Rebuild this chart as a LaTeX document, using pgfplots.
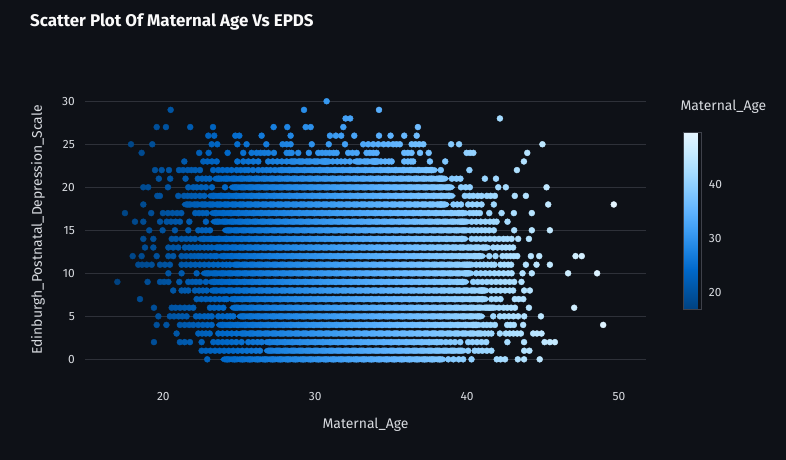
\documentclass[border=0pt]{standalone}
\usepackage{fontspec}
\setmainfont{Fira Sans}
\usepackage{pgfplots}
\pgfplotsset{compat=1.18}
\usetikzlibrary{calc}
\pgfdeclarelayer{background}
\pgfsetlayers{background,main}
\definecolor{bg}{HTML}{0E1117}
\definecolor{gridc}{HTML}{2E3139}
\definecolor{titlec}{HTML}{FAFAFA}
\definecolor{tickc}{HTML}{D8DBE0}
\definecolor{labelc}{HTML}{D8DBE0}
\definecolor{cbborder}{HTML}{3E414A}
\begin{document}
\begin{tikzpicture}[x=1bp,y=1bp]
\begin{axis}[
  width=561bp, height=296bp, scale only axis,
  xmin=14.84, xmax=51.78, ymin=-2.17, ymax=32.24,
  axis line style={draw=none}, major tick length=0pt,
  xtick={20,30,40,50}, ytick={0,5,...,30},
  ymajorgrids, grid style={draw=gridc, line width=1bp},
  tick label style={font=\fontsize{12}{14}\selectfont, text=tickc},
  /pgf/number format/assume math mode=true,
  xticklabel style={anchor=center, inner sep=0pt, yshift=-19bp},
  yticklabel style={anchor=east, inner sep=0pt, xshift=-10bp},
  xlabel={Maternal\_Age}, ylabel={Edinburgh\_Postnatal\_Depression\_Scale},
  every axis x label/.style={at={(axis description cs:0.5,-0.1588)}, anchor=center, font=\fontsize{14}{16}\selectfont, text=labelc},
  every axis y label/.style={at={(axis description cs:-0.0838,0.5)}, rotate=90, anchor=center, font=\fontsize{14}{16}\selectfont, text=labelc},
  colormap={stl}{rgb255=(0,66,128) rgb255=(0,84,163) rgb255=(0,104,201) rgb255=(28,131,225) rgb255=(61,157,243) rgb255=(96,180,255) rgb255=(131,201,255) rgb255=(166,220,255) rgb255=(199,235,255) rgb255=(228,245,255)},
  point meta min=16.9, point meta max=49.7,
  colorbar,
  colorbar shift/.style={},
  colorbar style={
    at={(parent axis.north east)}, anchor=north west,
    xshift=37.3bp, yshift=-50.7bp,
    width=18.4bp, height=176.6bp, scale only axis,
    ytick={20,30,40}, major tick length=0pt,
    axis line style={draw=cbborder, line width=0.6bp},
    yticklabel pos=right,
    yticklabel style={font=\fontsize{12}{14}\selectfont, text=tickc, anchor=west, inner sep=0pt, xshift=7bp},
    /pgf/number format/assume math mode=true,
    title={Maternal\_Age},
    title style={at={(axis description cs:2.18,1.1115)}, anchor=center, font=\fontsize{14}{16}\selectfont, text=labelc, inner sep=0pt},
  },
]
\coordinate (pSW) at (rel axis cs:0,0);
% dense cores of each EPDS row
\addplot[scatter, only marks, mark=*, mark size=3pt, point meta=x, mark options={xscale=2.2},
  scatter/use mapped color={draw=mapped color, fill=mapped color}] coordinates {
(24.2,0) (24.7,0) (25.2,0) (25.7,0) (26.2,0) (26.7,0) (27.2,0) (27.7,0) (28.2,0) (28.7,0) (29.2,0) (29.7,0) (30.2,0) (30.7,0) (31.2,0) (31.7,0) (32.2,0) (32.7,0) (33.2,0) (33.7,0) (34.2,0) (34.7,0) (35.2,0) (35.7,0) (36.2,0) (36.7,0) (37.2,0) (37.7,0) (38.2,0)
(27.05,1) (27.55,1) (28.05,1) (28.55,1) (29.05,1) (29.55,1) (30.05,1) (30.55,1) (31.05,1) (31.55,1) (32.05,1) (32.55,1) (33.05,1) (33.55,1) (34.05,1) (34.55,1) (35.05,1) (35.55,1) (36.05,1) (36.55,1) (37.05,1) (37.55,1) (38.05,1) (38.55,1) (39.05,1) (39.55,1)
(27,2) (27.5,2) (28,2) (28.5,2) (29,2) (29.5,2) (30,2) (30.5,2) (31,2) (31.5,2) (32,2) (32.5,2) (33,2) (33.5,2) (34,2) (34.5,2) (35,2) (35.5,2) (36,2) (36.5,2) (37,2) (37.5,2) (38,2)
(25.3,3) (25.8,3) (26.3,3) (26.8,3) (27.3,3) (27.8,3) (28.3,3) (28.8,3) (29.3,3) (29.8,3) (30.3,3) (30.8,3) (31.3,3) (31.8,3) (32.3,3) (32.8,3) (33.3,3) (33.8,3) (34.3,3) (34.8,3) (35.3,3) (35.8,3) (36.3,3) (36.8,3) (37.3,3) (37.8,3) (38.3,3) (38.8,3) (39.3,3) (39.8,3) (40.3,3) (40.8,3)
(23.9,4) (24.4,4) (24.9,4) (25.4,4) (25.9,4) (26.4,4) (26.9,4) (27.4,4) (27.9,4) (28.4,4) (28.9,4) (29.4,4) (29.9,4) (30.4,4) (30.9,4) (31.4,4) (31.9,4) (32.4,4) (32.9,4) (33.4,4) (33.9,4) (34.4,4) (34.9,4) (35.4,4) (35.9,4) (36.4,4) (36.9,4) (37.4,4) (37.9,4) (38.4,4) (38.9,4) (39.4,4) (39.9,4) (40.4,4) (40.6,4)
(25.25,5) (25.75,5) (26.25,5) (26.75,5) (27.25,5) (27.75,5) (28.25,5) (28.75,5) (29.25,5) (29.75,5) (30.25,5) (30.75,5) (31.25,5) (31.75,5) (32.25,5) (32.75,5) (33.25,5) (33.75,5) (34.25,5) (34.75,5) (35.25,5) (35.75,5) (36.25,5) (36.75,5) (37.25,5) (37.75,5) (38.25,5) (38.75,5) (39.25,5) (39.75,5) (40.25,5) (40.75,5)
(24.8,6) (25.3,6) (25.8,6) (26.3,6) (26.8,6) (27.3,6) (27.8,6) (28.3,6) (28.8,6) (29.3,6) (29.8,6) (30.3,6) (30.8,6) (31.3,6) (31.8,6) (32.3,6) (32.8,6) (33.3,6) (33.8,6) (34.3,6) (34.8,6) (35.3,6) (35.8,6) (36.3,6) (36.8,6) (37.3,6) (37.8,6) (38.3,6) (38.8,6) (39.3,6) (39.8,6) (40.3,6) (40.8,6) (41.3,6) (41.65,6)
(24.7,7) (25.2,7) (25.7,7) (26.2,7) (26.7,7) (27.2,7) (27.7,7) (28.2,7) (28.7,7) (29.2,7) (29.7,7) (30.2,7) (30.7,7) (31.2,7) (31.7,7) (32.2,7) (32.7,7) (33.2,7) (33.7,7) (34.2,7) (34.7,7) (35.2,7) (35.7,7) (36.2,7) (36.7,7) (37.2,7) (37.7,7) (38.2,7) (38.7,7) (39.2,7) (39.7,7) (40.2,7) (40.7,7) (41.0,7)
(23.4,8) (23.9,8) (24.4,8) (24.9,8) (25.4,8) (25.9,8) (26.4,8) (26.9,8) (27.4,8) (27.9,8) (28.4,8) (28.9,8) (29.4,8) (29.9,8) (30.4,8) (30.9,8) (31.4,8) (31.9,8) (32.4,8) (32.9,8) (33.4,8) (33.9,8) (34.4,8) (34.9,8) (35.4,8) (35.9,8) (36.4,8) (36.9,8) (37.4,8) (37.9,8) (38.4,8) (38.9,8) (39.4,8) (39.9,8) (40.4,8) (40.9,8) (41.05,8)
(23.35,9) (23.85,9) (24.35,9) (24.85,9) (25.35,9) (25.85,9) (26.35,9) (26.85,9) (27.35,9) (27.85,9) (28.35,9) (28.85,9) (29.35,9) (29.85,9) (30.35,9) (30.85,9) (31.35,9) (31.85,9) (32.35,9) (32.85,9) (33.35,9) (33.85,9) (34.35,9) (34.85,9) (35.35,9) (35.85,9) (36.35,9) (36.85,9) (37.35,9) (37.85,9) (38.35,9) (38.85,9) (39.35,9) (39.7,9)
(22.9,10) (23.4,10) (23.9,10) (24.4,10) (24.9,10) (25.4,10) (25.9,10) (26.4,10) (26.9,10) (27.4,10) (27.9,10) (28.4,10) (28.9,10) (29.4,10) (29.9,10) (30.4,10) (30.9,10) (31.4,10) (31.9,10) (32.4,10) (32.9,10) (33.4,10) (33.9,10) (34.4,10) (34.9,10) (35.4,10) (35.9,10) (36.4,10) (36.9,10) (37.4,10) (37.9,10) (38.4,10) (38.9,10) (39.4,10) (39.9,10) (40.05,10)
(24.85,11) (25.35,11) (25.85,11) (26.35,11) (26.85,11) (27.35,11) (27.85,11) (28.35,11) (28.85,11) (29.35,11) (29.85,11) (30.35,11) (30.85,11) (31.35,11) (31.85,11) (32.35,11) (32.85,11) (33.35,11) (33.85,11) (34.35,11) (34.85,11) (35.35,11) (35.85,11) (36.35,11) (36.85,11) (37.35,11) (37.85,11) (38.35,11) (38.85,11) (39.35,11) (39.85,11) (40.15,11)
(24.0,12) (24.5,12) (25.0,12) (25.5,12) (26.0,12) (26.5,12) (27.0,12) (27.5,12) (28.0,12) (28.5,12) (29.0,12) (29.5,12) (30.0,12) (30.5,12) (31.0,12) (31.5,12) (32.0,12) (32.5,12) (33.0,12) (33.5,12) (34.0,12) (34.5,12) (35.0,12) (35.5,12) (36.0,12) (36.5,12) (37.0,12) (37.5,12) (38.0,12) (38.5,12) (39.0,12) (39.5,12) (40.0,12) (40.5,12) (40.8,12)
(23.65,13) (24.15,13) (24.65,13) (25.15,13) (25.65,13) (26.15,13) (26.65,13) (27.15,13) (27.65,13) (28.15,13) (28.65,13) (29.15,13) (29.65,13) (30.15,13) (30.65,13) (31.15,13) (31.65,13) (32.15,13) (32.65,13) (33.15,13) (33.65,13) (34.15,13) (34.65,13) (35.15,13) (35.65,13) (36.15,13) (36.65,13) (37.15,13) (37.65,13) (38.15,13) (38.65,13) (39.15,13) (39.65,13) (40.15,13) (40.65,13) (41.15,13)
(22.65,14) (23.15,14) (23.65,14) (24.15,14) (24.65,14) (25.15,14) (25.65,14) (26.15,14) (26.65,14) (27.15,14) (27.65,14) (28.15,14) (28.65,14) (29.15,14) (29.65,14) (30.15,14) (30.65,14) (31.15,14) (31.65,14) (32.15,14) (32.65,14) (33.15,14) (33.65,14) (34.15,14) (34.65,14) (35.15,14) (35.65,14) (36.15,14) (36.65,14) (37.15,14) (37.65,14) (38.15,14) (38.65,14) (39.15,14) (39.65,14)
(24.3,15) (24.8,15) (25.3,15) (25.8,15) (26.3,15) (26.8,15) (27.3,15) (27.8,15) (28.3,15) (28.8,15) (29.3,15) (29.8,15) (30.3,15) (30.8,15) (31.3,15) (31.8,15) (32.3,15) (32.8,15) (33.3,15) (33.8,15) (34.3,15) (34.8,15) (35.3,15) (35.8,15) (36.3,15) (36.8,15) (37.3,15) (37.8,15) (38.3,15) (38.8,15) (39.3,15) (39.8,15)
(23.55,16) (24.05,16) (24.55,16) (25.05,16) (25.55,16) (26.05,16) (26.55,16) (27.05,16) (27.55,16) (28.05,16) (28.55,16) (29.05,16) (29.55,16) (30.05,16) (30.55,16) (31.05,16) (31.55,16) (32.05,16) (32.55,16) (33.05,16) (33.55,16) (34.05,16) (34.55,16) (35.05,16) (35.55,16) (36.05,16) (36.55,16) (37.05,16) (37.55,16) (38.05,16) (38.55,16) (39.05,16) (39.55,16) (39.8,16)
(23.45,17) (23.95,17) (24.45,17) (24.95,17) (25.45,17) (25.95,17) (26.45,17) (26.95,17) (27.45,17) (27.95,17) (28.45,17) (28.95,17) (29.45,17) (29.95,17) (30.45,17) (30.95,17) (31.45,17) (31.95,17) (32.45,17) (32.95,17) (33.45,17) (33.95,17) (34.45,17) (34.95,17) (35.45,17) (35.95,17) (36.45,17) (36.95,17) (37.45,17) (37.95,17) (38.45,17) (38.95,17) (39.45,17) (39.7,17)
(21.65,18) (22.15,18) (22.65,18) (23.15,18) (23.65,18) (24.15,18) (24.65,18) (25.15,18) (25.65,18) (26.15,18) (26.65,18) (27.15,18) (27.65,18) (28.15,18) (28.65,18) (29.15,18) (29.65,18) (30.15,18) (30.65,18) (31.15,18) (31.65,18) (32.15,18) (32.65,18) (33.15,18) (33.65,18) (34.15,18) (34.65,18) (35.15,18) (35.65,18) (36.15,18) (36.65,18) (37.15,18) (37.65,18) (38.15,18) (38.4,18)
(23.3,19) (23.8,19) (24.3,19) (24.8,19) (25.3,19) (25.8,19) (26.3,19) (26.8,19) (27.3,19) (27.8,19) (28.3,19) (28.8,19) (29.3,19) (29.8,19) (30.3,19) (30.8,19) (31.3,19) (31.8,19) (32.3,19) (32.8,19) (33.3,19) (33.8,19) (34.3,19) (34.8,19) (35.3,19) (35.8,19) (36.3,19) (36.8,19) (37.3,19) (37.8,19) (38.3,19) (38.8,19)
(24.75,20) (25.25,20) (25.75,20) (26.25,20) (26.75,20) (27.25,20) (27.75,20) (28.25,20) (28.75,20) (29.25,20) (29.75,20) (30.25,20) (30.75,20) (31.25,20) (31.75,20) (32.25,20) (32.75,20) (33.25,20) (33.75,20) (34.25,20) (34.75,20) (35.25,20) (35.75,20) (36.25,20) (36.75,20) (37.25,20) (37.75,20) (38.25,20) (38.75,20)
(23.65,21) (24.15,21) (24.65,21) (25.15,21) (25.65,21) (26.15,21) (26.65,21) (27.15,21) (27.65,21) (28.15,21) (28.65,21) (29.15,21) (29.65,21) (30.15,21) (30.65,21) (31.15,21) (31.65,21) (32.15,21) (32.65,21) (33.15,21) (33.65,21) (34.15,21) (34.65,21) (35.15,21) (35.65,21) (36.15,21) (36.65,21) (37.15,21) (37.65,21) (38.15,21) (38.35,21)
(27.8,22) (28.3,22) (28.8,22) (29.3,22) (29.8,22) (30.3,22) (30.8,22) (31.3,22) (31.8,22) (32.3,22) (32.8,22) (33.3,22) (33.8,22) (34.3,22) (34.8,22) (35.3,22) (35.8,22) (36.3,22) (36.8,22) (37.3,22) (37.65,22)
(28.55,23) (29.05,23) (29.55,23) (30.05,23) (30.55,23) (30.75,23) (32.85,23) (33.35,23) (33.85,23) (34.0,23)
};
% individual points outside the dense cores
\addplot[scatter, only marks, mark=*, mark size=3pt, point meta=x,
  scatter/use mapped color={draw=mapped color, fill=mapped color}] coordinates {
(22.89,0) (38.76,0) (39.1,0) (39.45,0) (39.74,0) (40.29,0) (41.95,0) (42.2,0) (42.5,0) (43.34,0) (43.75,0) (44.78,0)
(22.52,1) (22.8,1) (23.1,1) (23.4,1) (23.7,1) (24.0,1) (24.3,1) (24.6,1) (24.9,1) (25.2,1) (25.5,1) (25.8,1) (26.1,1) (26.36,1) (40.07,1) (40.5,1) (40.75,1) (41.0,1) (41.3,1) (41.6,1) (43.76,1) (44.1,1)
(19.38,2) (21.09,2) (21.4,2) (21.75,2) (22.52,2) (23.29,2) (23.6,2) (23.9,2) (24.2,2) (24.5,2) (24.8,2) (25.15,2) (25.59,2) (25.9,2) (26.2,2) (26.47,2) (38.3,2) (38.6,2) (38.9,2) (39.2,2) (39.55,2) (40.07,2) (40.35,2) (40.65,2) (40.95,2) (41.26,2) (42.65,2) (43.75,2) (45.1,2) (45.45,2) (45.78,2)
(20.87,3) (22.3,3) (22.55,3) (22.8,3) (23.05,3) (23.62,3) (23.9,3) (24.2,3) (24.5,3) (24.82,3) (41.17,3) (41.4,3) (41.6,3) (42.16,3) (42.55,3) (42.8,3) (43.05,3) (43.3,3) (43.54,3) (44.35,3) (44.6,3) (44.9,3)
(19.56,4) (20.2,4) (21.09,4) (21.4,4) (21.7,4) (21.97,4) (22.3,4) (22.6,4) (22.9,4) (23.18,4) (41.06,4) (41.3,4) (41.55,4) (41.83,4) (42.64,4) (42.85,4) (43.08,4) (43.69,4) (48.96,4)
(19.67,5) (20.43,5) (20.7,5) (21.0,5) (21.25,5) (21.53,5) (22.15,5) (22.4,5) (22.7,5) (22.95,5) (23.18,5) (23.62,5) (23.9,5) (24.2,5) (24.4,5) (24.6,5) (41.72,5) (42.16,5) (42.45,5) (42.75,5) (43.05,5) (43.36,5) (43.76,5) (44.86,5)
(19.38,6) (20.55,6) (20.8,6) (21.1,6) (21.4,6) (21.7,6) (21.97,6) (23.07,6) (23.35,6) (23.65,6) (23.95,6) (42.1,6) (42.4,6) (42.65,6) (42.9,6) (43.15,6) (44.07,6) (47.05,6)
(18.46,7) (22.19,7) (22.5,7) (22.8,7) (23.1,7) (23.4,7) (23.7,7) (24.0,7) (24.17,7) (41.6,7) (41.9,7) (42.2,7) (43.14,7) (43.4,7) (43.7,7)
(20.65,8) (21.2,8) (21.42,8) (21.64,8) (22.08,8) (22.35,8) (22.6,8) (22.85,8) (41.6,8) (41.9,8) (42.2,8) (42.5,8) (42.8,8) (43.03,8) (43.76,8) (44.13,8)
(16.97,9) (18.96,9) (19.78,9) (20.05,9) (20.33,9) (21.05,9) (21.64,9) (21.9,9) (22.15,9) (22.41,9) (22.8,9) (40.4,9) (40.7,9) (41.0,9) (41.3,9) (41.6,9) (41.9,9) (42.2,9) (42.5,9) (42.8,9) (43.1,9) (43.58,9)
(20.33,10) (21.2,10) (22.19,10) (40.6,10) (40.9,10) (41.2,10) (41.5,10) (41.8,10) (42.1,10) (42.4,10) (42.7,10) (42.93,10) (43.65,10) (44.26,10) (46.65,10) (48.56,10)
(18.35,11) (18.6,11) (18.9,11) (19.23,11) (19.78,11) (20.1,11) (20.43,11) (21.2,11) (21.5,11) (21.8,11) (22.1,11) (22.4,11) (22.7,11) (23.0,11) (23.3,11) (23.6,11) (23.9,11) (24.15,11) (24.38,11) (40.6,11) (40.85,11) (41.1,11) (41.35,11) (41.6,11) (41.8,11) (42.2,11) (42.45,11) (42.7,11) (42.9,11) (43.87,11) (44.57,11) (45.45,11)
(17.98,12) (18.57,12) (19.56,12) (20.33,12) (20.65,12) (21.2,12) (21.5,12) (21.8,12) (22.05,12) (22.3,12) (22.52,12) (22.8,12) (23.1,12) (23.35,12) (23.5,12) (41.46,12) (41.87,12) (42.33,12) (42.6,12) (42.85,12) (43.08,12) (43.3,12) (44.2,12) (44.75,12) (47.14,12) (47.55,12)
(18.79,13) (19.34,13) (20.33,13) (20.65,13) (20.98,13) (21.42,13) (21.7,13) (21.95,13) (22.19,13) (22.41,13) (22.7,13) (22.95,13) (23.18,13) (41.72,13) (42.0,13) (42.3,13) (42.55,13) (42.8,13) (43.03,13)
(18.68,14) (19.34,14) (20.55,14) (20.83,14) (21.2,14) (21.5,14) (21.8,14) (22.08,14) (40.3,14) (40.6,14) (40.9,14) (41.2,14) (41.5,14) (41.8,14) (42.1,14) (42.4,14) (42.65,14) (42.93,14) (43.36,14) (44.07,14)
(19.07,15) (19.95,15) (20.76,15) (21.64,15) (22.3,15) (22.55,15) (22.8,15) (23.07,15) (40.2,15) (40.45,15) (40.7,15) (40.95,15) (41.2,15) (41.46,15) (41.76,15) (43.1,15) (44.26,15) (45.45,15)
(18.13,16) (18.68,16) (19.78,16) (20.22,16) (20.5,16) (20.8,16) (21.09,16) (21.71,16) (22.8,16) (40.3,16) (40.6,16) (40.9,16) (41.2,16) (41.5,16) (41.75,16) (41.94,16) (42.66,16)
(17.47,17) (19.2,17) (19.97,17) (20.3,17) (20.6,17) (20.9,17) (21.18,17) (22.1,17) (22.35,17) (22.6,17) (22.85,17) (40.18,17) (40.4,17) (40.62,17) (40.84,17) (41.46,17) (42.27,17) (43.08,17) (44.26,17)
(18.68,18) (39.1,18) (39.35,18) (39.6,18) (40.07,18) (40.35,18) (40.65,18) (40.95,18) (41.76,18) (45.34,18) (49.66,18)
(19.6,19) (19.77,19) (20.98,19) (21.36,19) (21.6,19) (21.85,19) (22.1,19) (22.41,19) (22.7,19) (39.85,19) (40.15,19) (40.4,19) (40.7,19) (40.95,19) (41.3,19) (41.55,19) (41.83,19) (43.14,19) (43.87,19)
(18.68,20) (19.0,20) (20.3,20) (21.64,20) (21.97,20) (22.2,20) (22.5,20) (22.8,20) (23.2,20) (24.06,20) (39.6,20) (39.9,20) (40.18,20) (42.05,20) (42.55,20) (45.23,20)
(19.7,21) (20.45,21) (21.46,21) (22.27,21) (22.55,21) (22.8,21) (23.04,21) (39.0,21) (39.3,21) (39.56,21) (41.17,21) (41.9,21)
(19.45,22) (19.89,22) (20.37,22) (21.03,22) (21.3,22) (21.6,22) (21.85,22) (22.1,22) (22.41,22) (23.28,22) (23.62,22) (23.9,22) (24.2,22) (24.49,22) (24.83,22) (25.1,22) (25.37,22) (25.59,22) (25.9,22) (26.25,22) (26.54,22) (26.8,22) (27.05,22) (27.35,22) (38.27,22) (40.15,22) (43.28,22)
(21.38,23) (22.63,23) (22.9,23) (23.2,23) (23.51,23) (24.87,23) (25.26,23) (25.6,23) (25.92,23) (26.25,23) (26.9,23) (27.2,23) (27.5,23) (27.8,23) (28.12,23) (31.15,23) (31.45,23) (31.7,23) (31.96,23) (32.28,23) (34.33,23) (34.6,23) (34.85,23) (35.03,23) (35.86,23) (36.1,23) (36.3,23) (36.45,23) (37.55,23) (38.56,23) (43.74,23)
(18.57,24) (22.36,24) (22.98,24) (24.23,24) (25.26,24) (25.81,24) (26.14,24) (26.4,24) (26.65,24) (26.91,24) (27.28,24) (28.12,24) (28.3,24) (28.45,24) (28.88,24) (29.58,24) (30.2,24) (30.45,24) (30.7,24) (30.95,24) (31.2,24) (31.41,24) (32.17,24) (32.45,24) (32.73,24) (33.38,24) (33.6,24) (33.82,24) (34.04,24) (35.86,24) (36.1,24) (36.34,24) (36.9,24) (37.47,24) (39.97,24) (40.2,24) (40.41,24) (43.96,24)
(17.87,25) (19.27,25) (23.18,25) (23.55,25) (24.87,25) (25.48,25) (26.78,25) (27.85,25) (28.12,25) (28.38,25) (29.77,25) (30.89,25) (31.96,25) (33.16,25) (33.49,25) (33.82,25) (34.15,25) (34.5,25) (34.81,25) (35.13,25) (35.35,25) (35.57,25) (36.35,25) (36.6,25) (36.85,25) (37.12,25) (38.95,25) (39.47,25) (44.96,25)
(22.96,26) (23.35,26) (24.74,26) (25.0,26) (26.47,26) (28.38,26) (30.97,26) (31.36,26) (31.71,26) (32.57,26) (34.2,26) (34.96,26) (35.86,26) (36.68,26)
(19.56,27) (20.17,27) (21.77,27) (23.27,27) (27.26,27) (28.16,27) (29.37,27) (29.70,27) (31.85,27) (36.76,27)
(32.0,28) (32.3,28) (42.16,28)
(20.48,29) (29.26,29) (34.2,29)
(30.75,30)
};
\end{axis}
\node[anchor=west, text=titlec, font=\fontsize{17}{20}\selectfont\bfseries, inner sep=0pt] at ($(pSW)+(-55,356.3)$) {Scatter Plot Of Maternal Age Vs EPDS};
\begin{pgfonlayer}{background}
\fill[bg] ($(pSW)+(-85,-82)$) rectangle ($(pSW)+(701,378)$);
\end{pgfonlayer}
\pgfresetboundingbox
\useasboundingbox ($(pSW)+(-85,-82)$) rectangle ($(pSW)+(701,378)$);
\end{tikzpicture}
\end{document}
